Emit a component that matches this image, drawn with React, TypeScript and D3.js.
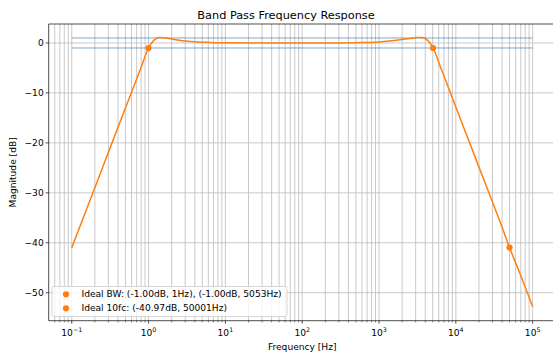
import React from "react";
import * as d3 from "d3";

// Frequency response samples (Hz, dB)
const freqHz = [
  0.1, 0.178, 0.316, 0.5, 0.631, 0.794, 1.0, 1.12, 1.26, 1.41, 1.58, 2.0, 2.51,
  3.98, 6.31, 10, 31.6, 100, 316, 631, 1000, 1585, 2000, 2512, 3162, 3548,
  3981, 4467, 5053, 6310, 7943, 10000, 15849, 25119, 39811, 50001, 63096,
  100000,
];
const magDb = [
  -41.0, -31.0, -21.0, -13.0, -9.0, -5.0, -1.0, 0.2, 0.9, 1.1, 1.05, 0.8, 0.55,
  0.25, 0.12, 0.06, 0.01, 0.0, 0.02, 0.1, 0.22, 0.5, 0.7, 0.9, 1.08, 1.1, 0.9,
  0.25, -1.0, -4.8, -8.8, -12.8, -20.8, -28.8, -36.8, -40.97, -44.8, -52.8,
];

// Marked points
const markFreq = [1, 5053, 50001];
const markDb = [-1.0, -1.0, -40.97];

// Ripple band limits
const bandDb = [1, -1];
const bandFreq = [0.1, 100000];

const yTicks = [0, -10, -20, -30, -40, -50];
const xExponents = [-1, 0, 1, 2, 3, 4, 5];
const legendLabels = [
  "Ideal BW: (-1.00dB, 1Hz), (-1.00dB, 5053Hz)",
  "Ideal 10fc: (-40.97dB, 50001Hz)",
];

const W = 553;
const H = 358;
const left = 48.7;
const right = 555.7;
const top = 24;
const bottom = 320.7;

const font = "DejaVu Sans, sans-serif";
const orange = "#ff7f0e";
const blue = "#1f77b4";
const gridColor = "#b0b0b0";
const fs = 9.1;

const minus = (s: string) => s.replace("-", "\u2212");

export default function App() {
  const x = d3
    .scaleLog()
    .domain([Math.pow(10, -1.3), Math.pow(10, 5.3)])
    .range([left, right]);
  const y = d3.scaleLinear().domain([-55.6, 3.8]).range([bottom, top]);

  const pts: [number, number][] = freqHz.map((f, i) => [f, magDb[i]]);
  const line = d3
    .line<[number, number]>()
    .x((d) => x(d[0]))
    .y((d) => y(d[1]))
    .curve(d3.curveMonotoneX);

  // minor decade positions
  const minor: number[] = [];
  for (let e = -2; e <= 5; e++) {
    for (let m = 2; m <= 9; m++) {
      const v = m * Math.pow(10, e);
      if (x(v) >= left && x(v) <= right) minor.push(v);
    }
  }
  const major = xExponents.map((e) => Math.pow(10, e));

  return (
    <svg
      width={W}
      height={H}
      style={{ position: "absolute", left: 0, top: 0, background: "#fff" }}
      fontFamily={font}
    >
      <defs>
        <clipPath id="plot">
          <rect x={left} y={top} width={right - left} height={bottom - top} />
        </clipPath>
      </defs>
      <rect x={0} y={0} width={W} height={H} fill="#fff" />
      {/* grid */}
      <g clipPath="url(#plot)" stroke={gridColor} strokeWidth={0.8} opacity={0.85}>
        {minor.concat(major).map((v, i) => (
          <line key={"gx" + i} x1={x(v)} x2={x(v)} y1={top} y2={bottom} />
        ))}
        {yTicks.map((t) => (
          <line key={"gy" + t} x1={left} x2={right} y1={y(t)} y2={y(t)} />
        ))}
      </g>
      {/* band limits */}
      <g stroke={blue} strokeWidth={1} opacity={0.6}>
        {bandDb.map((b) => (
          <line
            key={"b" + b}
            x1={x(bandFreq[0])}
            x2={x(bandFreq[1])}
            y1={y(b)}
            y2={y(b)}
          />
        ))}
      </g>
      {/* response */}
      <path
        d={line(pts) || ""}
        fill="none"
        stroke={orange}
        strokeWidth={1.5}
        clipPath="url(#plot)"
      />
      {markFreq.map((f, i) => (
        <circle key={"m" + i} cx={x(f)} cy={y(markDb[i])} r={3.1} fill={orange} />
      ))}
      {/* spines */}
      <g stroke="#000" strokeWidth={0.7} fill="none">
        <line x1={left} x2={left} y1={top} y2={bottom} />
        <line x1={left} x2={right} y1={bottom} y2={bottom} />
        <line x1={left} x2={right} y1={top} y2={top} />
        <line x1={right} x2={right} y1={top} y2={bottom} />
      </g>
      {/* y axis */}
      <g fontSize={fs} fill="#000">
        {yTicks.map((t) => (
          <g key={"yt" + t}>
            <line x1={left - 3} x2={left} y1={y(t)} y2={y(t)} stroke="#000" strokeWidth={0.7} />
            <text x={left - 5} y={y(t)} dy="0.33em" textAnchor="end">
              {minus(String(t))}
            </text>
          </g>
        ))}
      </g>
      {/* x axis */}
      <g fill="#000">
        {minor.map((v, i) => (
          <line
            key={"mx" + i}
            x1={x(v)}
            x2={x(v)}
            y1={bottom}
            y2={bottom + 1.7}
            stroke="#000"
            strokeWidth={0.5}
          />
        ))}
        {xExponents.map((e) => {
          const px = x(Math.pow(10, e));
          return (
            <g key={"xt" + e}>
              <line x1={px} x2={px} y1={bottom} y2={bottom + 3} stroke="#000" strokeWidth={0.7} />
              <text x={px} y={bottom + 15} textAnchor="middle" fontSize={fs}>
                10
                <tspan fontSize={6.3} dy={-3.8}>
                  {minus(String(e))}
                </tspan>
              </text>
            </g>
          );
        })}
      </g>
      {/* labels */}
      <text
        x={(left + right) / 2}
        y={bottom + 29.5}
        textAnchor="middle"
        fontSize={fs}
      >
        Frequency [Hz]
      </text>
      <text
        transform={`translate(15.5, ${(top + bottom) / 2}) rotate(-90)`}
        textAnchor="middle"
        fontSize={fs}
      >
        Magnitude [dB]
      </text>
      <text x={286} y={top - 5} textAnchor="middle" fontSize={11.3}>
        Band Pass Frequency Response
      </text>
      {/* legend */}
      <g>
        <rect
          x={52}
          y={286.5}
          width={235}
          height={30}
          rx={2}
          fill="#fff"
          fillOpacity={0.8}
          stroke="#cccccc"
          strokeWidth={0.8}
        />
        {legendLabels.map((l, i) => (
          <g key={"lg" + i}>
            <circle cx={66} cy={294.3 + i * 14} r={3.1} fill={orange} />
            <text x={81.5} y={294.3 + i * 14} dy="0.33em" fontSize={fs}>
              {l}
            </text>
          </g>
        ))}
      </g>
    </svg>
  );
}
